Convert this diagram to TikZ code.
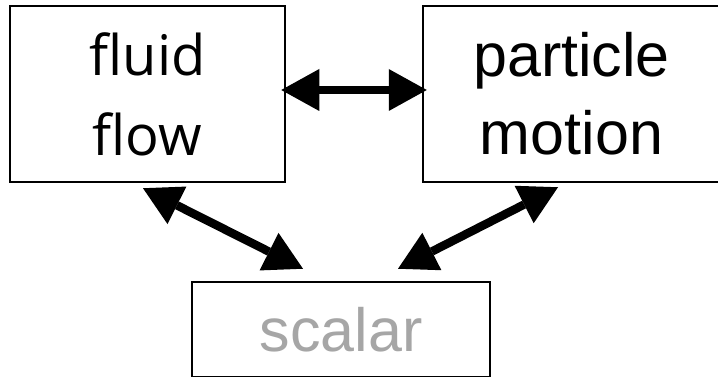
\documentclass[tikz,border=0pt]{standalone}
\usepackage{fontspec}
\setmainfont{Liberation Sans}
\newfontfamily\humanist{Open Sans}
\usetikzlibrary{arrows.meta}
\definecolor{scalargray}{RGB}{166,166,166}
\tikzset{
  block/.style={draw=black, line width=2.5pt, fill=white, inner sep=0pt,
    align=center, anchor=center},
  headtip/.tip={Triangle[length=38pt,width=42pt,line width=0pt]},
  link/.style={line width=8.5pt, headtip-headtip}
}
\begin{document}
\begin{tikzpicture}[x=1pt,y=1pt]
  \useasboundingbox (0,0) rectangle (718,377);
  % the three blocks
  \node[block, minimum width=275pt, minimum height=176pt,
        font=\humanist\fontsize{56pt}{80pt}\selectfont]
        (fluid) at (147.5,283) {fluid\\flow};
  \node[block, minimum width=297pt, minimum height=176pt,
        font=\fontsize{61pt}{78pt}\selectfont]
        (particle) at (571.5,283) {particle\\motion};
  \node[block, minimum width=298pt, minimum height=95pt, text=scalargray,
        font=\fontsize{61pt}{78pt}\selectfont]
        (scalar) at (341,47.5) {scalar};
  % two-way couplings
  \draw[link] ([shift={(-5,4)}]fluid.east) -- ([shift={(5,4)}]particle.west);
  \draw[link] ([shift={(-4.5,-5)}]fluid.south) -- ([shift={(-38,12)}]scalar.north);
  \draw[link] ([shift={(-13.5,-4)}]particle.south) -- ([shift={(57,12)}]scalar.north);
\end{tikzpicture}
\end{document}
